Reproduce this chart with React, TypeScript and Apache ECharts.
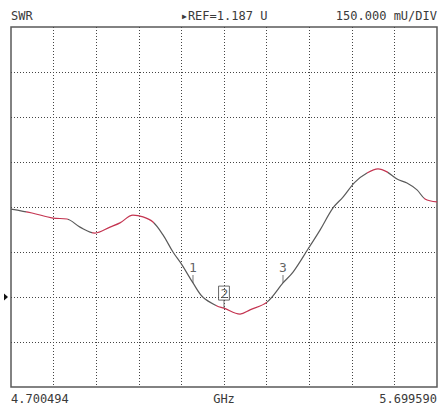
import React, { useEffect, useRef } from "react";
import * as echarts from "echarts";

// Sweep (GHz)
const START_GHZ = 4.700494;
const STOP_GHZ = 5.69959;
const X_DIVS = 10;
const X_UNIT = "GHz";

// Reference level and scale
const REF_U = 1.187;
const SCALE_U_PER_DIV = 0.15;
const DIVS_ABOVE_REF = 6;
const DIVS_BELOW_REF = 2;

// Trace: frequency (GHz) and SWR (U)
const freqs = [
  4.7005, 4.7497, 4.799, 4.8318, 4.8623, 4.8975, 4.9327, 4.9561, 4.9866, 5.0101,
  5.0335, 5.057, 5.0804, 5.1015, 5.1273, 5.1508, 5.1836, 5.2, 5.2376,
  5.261, 5.3009, 5.3384, 5.3619, 5.3971, 5.4252, 5.4557, 5.4791, 5.5073, 5.5354,
  5.5612, 5.5823, 5.6058, 5.6292, 5.6527, 5.6715, 5.6996,
];
const swr = [
  1.48, 1.467, 1.45, 1.447, 1.42, 1.4, 1.42, 1.434, 1.46, 1.454,
  1.437, 1.394, 1.337, 1.294, 1.234, 1.186, 1.157, 1.15, 1.13,
  1.144, 1.17, 1.234, 1.27, 1.347, 1.41, 1.484, 1.52, 1.57, 1.6,
  1.614, 1.604, 1.58, 1.567, 1.544, 1.514, 1.504,
];

// Markers
const markerNames = ["1", "2", "3"];
const markerFreqs = [5.1273, 5.2, 5.3384];
const markerSwr = [1.234, 1.15, 1.234];
const activeMarker = "2";

// Frequency bands where the trace shows red
const redBands = [
  [4.735, 4.835],
  [4.89, 5.036],
  [5.182, 5.302],
  [5.536, 5.585],
  [5.668, 5.7],
];

const FONT = "DejaVu Sans Mono";
const TEXT = "#3a3a3a";

export default function App() {
  const ref = useRef<HTMLDivElement>(null);

  useEffect(() => {
    document.body.style.margin = "0";
    const chart = echarts.init(ref.current!, null, { renderer: "svg" });
    const yMin = REF_U - DIVS_BELOW_REF * SCALE_U_PER_DIV;
    const yMax = REF_U + DIVS_ABOVE_REF * SCALE_U_PER_DIV;
    const xInterval = (STOP_GHZ - START_GHZ) / X_DIVS;

    const trace = freqs.map((f, i) => [f, swr[i]]);
    const markers = markerNames.map((n, i) => ({
      name: n,
      value: [markerFreqs[i], markerSwr[i]],
      label:
        n === activeMarker
          ? { borderColor: "#444", borderWidth: 1, padding: [1, 1, 0, 2], distance: 0 }
          : {},
    }));

    const gridLine = { color: "#444", width: 1, type: [1, 2] as number[] };

    chart.setOption({
      animation: false,
      backgroundColor: "#fff",
      grid: {
        left: 11,
        top: 27,
        width: 426,
        height: 360,
        containLabel: false,
        outerBoundsMode: "none",
        show: true,
        borderColor: "#5a5a5a",
        borderWidth: 1.5,
        backgroundColor: "transparent",
      },
      xAxis: {
        type: "value",
        min: START_GHZ,
        max: STOP_GHZ,
        interval: xInterval,
        axisLine: { show: false },
        axisTick: { show: false },
        axisLabel: {
          showMinLabel: true,
          showMaxLabel: true,
          alignMinLabel: "left",
          alignMaxLabel: "right",
          margin: 6,
          fontFamily: FONT,
          fontSize: 12,
          color: TEXT,
          formatter: (v: number, i: number) =>
            i === 0 || i === X_DIVS ? v.toFixed(6) : "",
        },
        splitLine: { show: true, showMinLine: false, showMaxLine: false, lineStyle: gridLine },
      },
      yAxis: {
        type: "value",
        min: yMin,
        max: yMax,
        interval: SCALE_U_PER_DIV,
        axisLine: { show: false },
        axisTick: { show: false },
        axisLabel: { show: false },
        splitLine: { show: true, showMinLine: false, showMaxLine: false, lineStyle: gridLine },
      },
      visualMap: {
        show: false,
        type: "piecewise",
        dimension: 0,
        seriesIndex: 0,
        pieces: redBands.map(([a, b]) => ({ gt: a, lte: b, color: "#c43551" })),
        outOfRange: { color: "#5a5a5a" },
      },
      series: [
        {
          type: "line",
          data: trace,
          smooth: 0.35,
          showSymbol: false,
          lineStyle: { width: 1.2 },
          z: 3,
        },
        {
          type: "scatter",
          data: markers,
          symbol: "rect",
          symbolSize: [1, 8],
          symbolOffset: [0, -4],
          itemStyle: { color: "#555" },
          label: {
            show: true,
            position: "top",
            distance: 1,
            formatter: "{b}",
            fontFamily: FONT,
            fontSize: 13,
            color: TEXT,
          },
          z: 4,
        },
      ],
    });

    const [lx, refY] = chart.convertToPixel({ gridIndex: 0 }, [START_GHZ, REF_U]);
    const [cx, bottomY] = chart.convertToPixel({ gridIndex: 0 }, [(START_GHZ + STOP_GHZ) / 2, yMin]);
    chart.setOption({
      graphic: [
        {
          type: "polygon",
          shape: { points: [[lx - 7, refY - 3.5], [lx - 3, refY], [lx - 7, refY + 3.5]] },
          style: { fill: "#111" },
        },
        {
          type: "text",
          x: cx,
          y: bottomY + 6,
          style: { text: X_UNIT, font: `12px "${FONT}"`, fill: TEXT, verticalAlign: "top", align: "center" },
        },
        {
          type: "text",
          x: 11,
          y: 16,
          style: { text: "SWR", font: `12px "${FONT}"`, fill: TEXT, verticalAlign: "middle", align: "left" },
        },
        {
          type: "text",
          x: cx,
          y: 16,
          style: {
            text: `▸REF=${REF_U.toFixed(3)} U`,
            font: `12px "${FONT}"`,
            fill: TEXT,
            verticalAlign: "middle",
            align: "center",
          },
        },
        {
          type: "text",
          x: 437,
          y: 16,
          style: {
            text: `${(SCALE_U_PER_DIV * 1000).toFixed(3)} mU/DIV`,
            font: `12px "${FONT}"`,
            fill: TEXT,
            verticalAlign: "middle",
            align: "right",
          },
        },
      ],
    });

    return () => chart.dispose();
  }, []);

  return <div ref={ref} style={{ width: 439, height: 409 }} />;
}
